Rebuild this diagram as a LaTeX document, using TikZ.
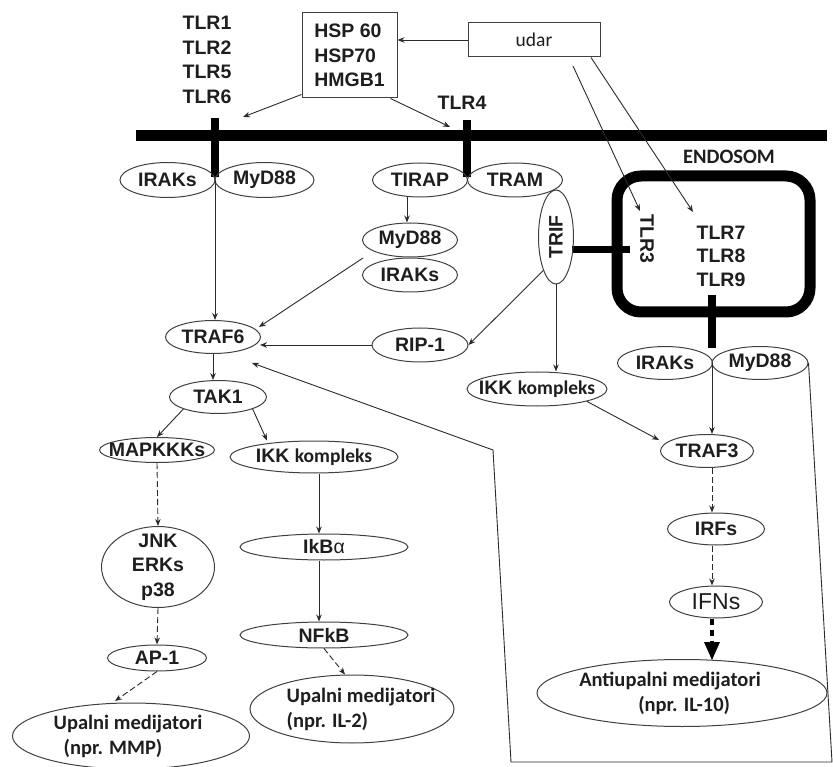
\documentclass[tikz,border=0pt]{standalone}
\usepackage{fontspec}
\setmainfont{Liberation Sans}
\newfontfamily\calf{Carlito}
\usetikzlibrary{shapes.geometric, arrows.meta}
\definecolor{ln}{HTML}{2A2A2A}
\definecolor{elc}{HTML}{404040}
\definecolor{txt}{HTML}{1E1E1E}
\newcommand{\ab}{\bfseries\fontsize{19.5}{24.5}\selectfont}
\newcommand{\cb}{\calf\bfseries\fontsize{19.5}{24}\selectfont}
\newcommand{\cbig}{\calf\bfseries\fontsize{20.5}{25}\selectfont}
\begin{document}
\begin{tikzpicture}[x=1pt,y=-1pt,
  lab/.style={font=\ab, text=txt, align=center, inner sep=0pt},
  clab/.style={font=\cbig, text=txt, align=left, inner sep=0pt},
  ifnlab/.style={font=\fontsize{23}{26}\selectfont, text=txt, inner sep=0pt},
  el/.style={ellipse, draw=elc, line width=1pt, inner sep=0pt},
  arr/.style={draw=ln, line width=0.9pt, -{Stealth[length=7pt,width=5.5pt]}},
  darr/.style={arr, dash pattern=on 6pt off 3pt},
  thickarr/.style={draw=black, line width=4pt, dash pattern=on 6pt off 5pt,
     -{Triangle[length=18pt,width=16pt,line width=0pt]}},
  bar/.style={draw=black, line width=11pt},
  stub/.style={draw=black, line width=8pt},
  box/.style={draw=elc, line width=1pt, fill=white},
]
\useasboundingbox (0,0) rectangle (833,767);

% membrane and receptors
\draw[bar] (136,136) -- (827,136);
\draw[stub] (215,118) -- (215,177);
\draw[stub] (467,120) -- (467,177);
\draw[line width=11pt, rounded corners=24pt] (617,176) rectangle (810,312);
\draw[line width=7pt] (572,250) -- (630,250);
\draw[stub] (712,295) -- (712,348);

% texts
\node[lab] (tlrA) at (207,60) {TLR1\\TLR2\\TLR5\\TLR6};
\node[lab] (tlr4) at (462,103) {TLR4};
\node[lab, font=\fontsize{19.5}{23.5}\selectfont\bfseries] (tlr789) at (721,256) {TLR7\\TLR8\\TLR9};
\node[lab, rotate=-90] (tlr3) at (647,239) {TLR3};
\node[clab] (endo) at (729,157) {ENDOSOM};

% boxes
\node[box, font=\ab, align=left, minimum width=95, minimum height=85, text=txt] (hsp) at (349.5,55.5) {HSP 60\\HSP70\\HMGB1};
\node[box, font=\calf\fontsize{19.5}{24}\selectfont, minimum width=132, minimum height=34, text=txt] (udar) at (534,40) {udar};

% ellipses
\node[el, minimum width=95, minimum height=35, label={[lab]center:IRAKs}] (irakL) at (167.5,180) {};
\node[el, minimum width=99, minimum height=35, label={[lab]center:MyD88}] (mydL) at (264.5,180) {};
\node[el, minimum width=95, minimum height=34, label={[lab]center:TIRAP}] (tirap) at (420,180) {};
\node[el, minimum width=95, minimum height=34, label={[lab]center:TRAM}] (tram) at (515,180) {};
\node[el, minimum width=35, minimum height=94, label={[lab,rotate=90]center:TRIF}] (trif) at (556,237) {};
\node[el, minimum width=95, minimum height=34, label={[lab]center:MyD88}] (mydM) at (410,240) {};
\node[el, minimum width=95, minimum height=34, label={[lab]center:IRAKs}] (irakM) at (410,275) {};
\node[el, minimum width=95, minimum height=33, label={[lab]center:TRAF6}] (traf6) at (213,337) {};
\node[el, minimum width=96, minimum height=34, label={[lab]center:RIP-1}] (rip) at (420,345) {};
\node[el, minimum width=97, minimum height=33, label={[lab]center:TAK1}] (tak1) at (218,397) {};
\node[el, minimum width=140, minimum height=34, label={[lab]center:IKK {\cb kompleks}}] (ikkR) at (537,389) {};
\node[el, minimum width=95, minimum height=33, label={[lab]center:IRAKs}] (irakE) at (665,363) {};
\node[el, minimum width=96, minimum height=33, label={[lab]center:MyD88}] (mydE) at (760,363) {};
\node[el, minimum width=93, minimum height=33, label={[lab]center:TRAF3}] (traf3) at (707,451) {};
\node[el, minimum width=97, minimum height=32, label={[lab]center:IRFs}] (irfs) at (716,529) {};
\node[el, minimum width=93, minimum height=32, label={[ifnlab]center:IFNs}] (ifns) at (716,602) {};
\node[el, minimum width=290, minimum height=67, label={[clab, xshift=-12]center:Antiupalni medijatori\\\hspace*{59pt}(npr. IL-10)}] (anti) at (682,693) {};
\node[el, minimum width=115, minimum height=25, label={[lab]center:MAPKKKs}] (mapk) at (157,450) {};
\node[el, minimum width=168, minimum height=32, label={[lab]center:IKK {\cb kompleks}}] (ikkL) at (314,457) {};
\node[el, minimum width=113, minimum height=81, label={[lab]center:JNK\\ERKs\\p38}] (jnk) at (158,567) {};
\node[el, minimum width=99, minimum height=26, label={[lab]center:AP-1}] (ap1) at (157,658) {};
\node[el, minimum width=168, minimum height=26, label={[lab]center:IkB{\mdseries α}}] (ikb) at (324,547) {};
\node[el, minimum width=168, minimum height=26, label={[lab]center:NFkB}] (nfkb) at (324,635) {};
\node[el, minimum width=237, minimum height=66, label={[clab, xshift=-3]center:Upalni medijatori\\\hspace*{10pt}(npr. MMP)}] (mmp) at (131,736) {};
\node[el, minimum width=204, minimum height=68, label={[clab, xshift=9]center:Upalni medijatori\\(npr. IL-2)}] (il2) at (352,709) {};

% free ends
\coordinate (hL) at (243,117);
\coordinate (hR) at (450,127);
\coordinate (u1) at (573,66);
\coordinate (t3) at (640,211);
\coordinate (t7) at (693,212);
\coordinate (jL) at (215,180);
\coordinate (jE) at (712,363);
\coordinate (mi) at (363,258);
\coordinate (t6a) at (259,327);
\coordinate (t6b) at (260,345);
\coordinate (t3a) at (659,440);
\coordinate (mmpTop) at (115,701);
\coordinate (fbA) at (832,762);
\coordinate (fbB) at (511,762);
\coordinate (fbC) at (493,450);
\coordinate (fbEnd) at (252,363);

% connectors
\draw[arr] (udar.west) -- (hsp.east |- udar.west);
\draw[arr] ([yshift=4pt]hsp.south west) -- (hL);
\draw[arr] ([xshift=-7pt]hsp.south east) -- (hR);
\draw[arr] (u1) -- (t3);
\draw[arr] ([xshift=57pt]udar.south) -- (t7);
\draw[arr] ([xshift=-13pt]tirap.south) -- ([xshift=-13pt]tirap.south |- mydM.north);
\draw[arr] (jL) -- (jL |- traf6.north);
\draw[arr] (mi) -- (t6a);
\draw[arr] (rip.west) -- (t6b);
\draw[arr] (trif.south west) -- (rip.east);
\draw[arr] (trif.south) -- (trif.south |- ikkR.north);
\draw[arr] (ikkR.south east) -- (t3a);
\draw[arr] (traf6.south) -- (traf6.south |- tak1.north);
\draw[arr] (tak1.south west) -- (mapk.north);
\draw[arr] (tak1.south east) -- ([xshift=-47pt]ikkL.north);
\draw[darr] (mapk.south) -- (jnk.north);
\draw[darr] (jnk.south) -- (ap1.north);
\draw[darr] (ap1.south) -- (mmpTop);
\draw[arr] ([xshift=5pt]ikkL.south) -- ([xshift=-5pt]ikb.north);
\draw[arr] ([xshift=-5pt]ikb.south) -- ([xshift=-5pt]nfkb.north);
\draw[darr] (nfkb.south) -- ([xshift=-7pt]il2.north);
\draw[arr] (jE) -- (jE |- traf3.north);
\draw[darr] (jE |- traf3.south) -- (jE |- irfs.north);
\draw[darr] (jE |- irfs.south) -- (jE |- ifns.north);
\draw[thickarr] (jE |- ifns.south) -- ([yshift=-1pt]jE |- anti.north);
\draw[arr] (mydE.east) -- (fbA) -- (fbB) -- (fbC) -- (fbEnd);
\end{tikzpicture}
\end{document}
